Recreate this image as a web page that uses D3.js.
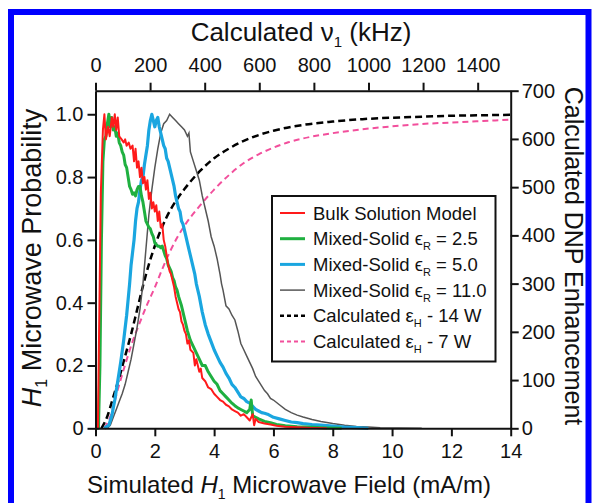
<!DOCTYPE html>
<html>
<head>
<meta charset="utf-8">
<script src="https://cdn.jsdelivr.net/npm/d3@7"></script>
<style>
  body { margin: 0; background: #fff; }
  text { font-family: Arial, "Liberation Sans", Helvetica, sans-serif; fill: #111; }
</style>
</head>
<body>
<script>
var svg_width  = 592;
var svg_height = 503;

// tick values
var xTicks    = [0, 2, 4, 6, 8, 10, 12, 14];
var xTopTicks = [0, 200, 400, 600, 800, 1000, 1200, 1400];
var yLTicks   = [0, 0.2, 0.4, 0.6, 0.8, 1.0];
var yRTicks   = [0, 100, 200, 300, 400, 500, 600, 700];

// simulated H1 probability curves, [field (mA/m), probability]
var bulk = [[0,0],[0.08,0],[0.12,0.3],[0.18,0.75],[0.25,0.95],[0.3,1.0],[0.35,0.92],[0.42,0.96],[0.48,0.93],
  [0.55,0.99],[0.6,0.96],[0.65,1.0],[0.7,0.95],[0.75,0.99],[0.8,0.93],[0.88,0.92],[0.95,0.91],[1.0,0.92],
  [1.05,0.9],[1.12,0.91],[1.18,0.89],[1.25,0.9],[1.3,0.85],[1.35,0.89],[1.4,0.83],[1.45,0.85],[1.5,0.8],
  [1.55,0.83],[1.6,0.78],[1.65,0.8],[1.7,0.76],[1.75,0.79],[1.8,0.73],[1.85,0.75],[1.9,0.7],[1.95,0.72],
  [2.0,0.69],[2.05,0.71],[2.1,0.66],[2.15,0.69],[2.2,0.64],[2.25,0.65],[2.3,0.6],[2.35,0.58],[2.4,0.55],
  [2.45,0.52],[2.5,0.5],[2.55,0.49],[2.6,0.47],[2.65,0.45],[2.7,0.42],[2.75,0.4],[2.8,0.38],[2.85,0.37],
  [2.9,0.34],[2.95,0.33],[3.0,0.31],[3.05,0.3],[3.1,0.27],[3.15,0.28],[3.2,0.25],[3.3,0.24],[3.35,0.2],
  [3.4,0.22],[3.5,0.18],[3.55,0.19],[3.6,0.16],[3.7,0.15],[3.8,0.13],[3.9,0.125],[4.0,0.11],[4.1,0.1],
  [4.2,0.09],[4.3,0.085],[4.4,0.075],[4.5,0.07],[4.6,0.06],[4.7,0.055],[4.8,0.05],[4.9,0.04],[5.0,0.045],
  [5.1,0.035],[5.2,0.025],[5.3,0.045],[5.35,0.01],[5.4,0.03],[5.5,0.02],[5.7,0.015],[5.9,0.012],[6.1,0.008],
  [6.4,0.005],[6.8,0.003],[7.3,0.001],[7.8,0]];

var solid25 = [[0,0],[0.1,0],[0.15,0.2],[0.2,0.6],[0.25,0.85],[0.3,0.92],[0.35,0.93],[0.4,0.97],[0.45,1.0],
  [0.5,0.96],[0.55,0.99],[0.6,0.95],[0.65,0.96],[0.7,0.93],[0.75,0.94],[0.8,0.91],[0.85,0.9],[0.9,0.88],
  [0.95,0.87],[1.0,0.84],[1.05,0.83],[1.1,0.8],[1.15,0.77],[1.2,0.76],[1.25,0.745],[1.3,0.75],[1.35,0.74],
  [1.4,0.76],[1.45,0.77],[1.5,0.77],[1.55,0.74],[1.6,0.72],[1.65,0.69],[1.7,0.66],[1.75,0.65],[1.8,0.64],
  [1.85,0.635],[1.9,0.62],[1.95,0.61],[2.0,0.59],[2.05,0.585],[2.1,0.58],[2.15,0.58],[2.2,0.575],[2.25,0.58],
  [2.3,0.565],[2.35,0.55],[2.4,0.54],[2.45,0.52],[2.5,0.51],[2.55,0.5],[2.6,0.48],[2.65,0.47],[2.7,0.45],
  [2.75,0.44],[2.8,0.42],[2.9,0.39],[3.0,0.35],[3.1,0.31],[3.2,0.28],[3.3,0.26],[3.4,0.24],[3.5,0.22],
  [3.6,0.2],[3.7,0.2],[3.8,0.18],[3.9,0.165],[4.0,0.15],[4.1,0.14],[4.2,0.12],[4.3,0.11],[4.4,0.1],
  [4.5,0.09],[4.6,0.08],[4.7,0.072],[4.8,0.065],[4.9,0.06],[5.0,0.055],[5.1,0.05],[5.2,0.06],[5.25,0.09],
  [5.3,0.04],[5.4,0.035],[5.5,0.03],[5.7,0.022],[5.9,0.018],[6.1,0.012],[6.4,0.008],[6.8,0.005],
  [7.3,0.003],[7.8,0.001],[8.3,0]];

var solid50 = [[0.3,0],[0.45,0.01],[0.55,0.04],[0.65,0.09],[0.75,0.15],[0.85,0.21],[0.95,0.28],[1.0,0.32],
  [1.05,0.36],[1.1,0.41],[1.15,0.46],[1.2,0.52],[1.25,0.56],[1.3,0.6],[1.35,0.66],[1.4,0.7],[1.45,0.72],
  [1.5,0.76],[1.55,0.79],[1.6,0.8],[1.65,0.84],[1.7,0.87],[1.75,0.9],[1.8,0.95],[1.85,0.98],[1.9,1.0],
  [1.95,0.98],[2.0,0.96],[2.05,0.98],[2.1,0.99],[2.15,0.96],[2.2,0.94],[2.25,0.92],[2.3,0.9],[2.35,0.89],
  [2.4,0.86],[2.45,0.85],[2.5,0.83],[2.55,0.81],[2.6,0.79],[2.65,0.77],[2.7,0.74],[2.75,0.72],[2.8,0.7],
  [2.85,0.69],[2.9,0.66],[2.95,0.65],[3.0,0.63],[3.05,0.61],[3.1,0.59],[3.15,0.57],[3.2,0.55],[3.25,0.53],
  [3.3,0.51],[3.35,0.49],[3.4,0.46],[3.45,0.44],[3.5,0.42],[3.6,0.37],[3.7,0.33],[3.8,0.3],[3.9,0.275],
  [4.0,0.25],[4.1,0.23],[4.2,0.21],[4.3,0.195],[4.4,0.175],[4.5,0.16],[4.6,0.14],[4.7,0.13],[4.8,0.115],
  [4.9,0.1],[5.0,0.095],[5.1,0.085],[5.2,0.08],[5.3,0.07],[5.4,0.06],[5.5,0.055],[5.6,0.05],[5.7,0.048],
  [5.8,0.045],[6.0,0.035],[6.2,0.03],[6.4,0.025],[6.6,0.02],[6.8,0.018],[7.0,0.015],[7.3,0.012],[7.6,0.01],
  [8.0,0.007],[8.4,0.004],[8.8,0.002],[9.2,0]];

var solid110 = [[0.4,0],[0.5,0.01],[0.6,0.035],[0.7,0.06],[0.8,0.085],[0.9,0.11],[1.0,0.14],[1.1,0.18],
  [1.2,0.22],[1.3,0.27],[1.4,0.32],[1.5,0.38],[1.6,0.46],[1.7,0.57],[1.8,0.68],[1.9,0.76],[2.0,0.83],
  [2.1,0.89],[2.2,0.94],[2.3,0.97],[2.4,0.98],[2.5,1.0],[2.6,0.99],[2.7,0.98],[2.8,0.97],[2.9,0.96],
  [3.0,0.95],[3.1,0.93],[3.15,0.94],[3.2,0.88],[3.3,0.85],[3.4,0.82],[3.5,0.79],[3.6,0.74],[3.7,0.7],
  [3.8,0.66],[3.9,0.61],[4.0,0.58],[4.1,0.54],[4.2,0.49],[4.25,0.46],[4.3,0.44],[4.4,0.39],[4.5,0.38],
  [4.6,0.36],[4.7,0.345],[4.8,0.31],[4.9,0.27],[5.0,0.25],[5.1,0.23],[5.2,0.21],[5.3,0.19],[5.4,0.165],
  [5.5,0.15],[5.6,0.135],[5.7,0.12],[5.8,0.11],[5.9,0.095],[6.0,0.09],[6.2,0.075],[6.4,0.06],[6.6,0.05],
  [6.8,0.042],[7.0,0.036],[7.3,0.028],[7.6,0.022],[8.0,0.015],[8.4,0.01],[8.8,0.006],[9.2,0.004],
  [9.6,0.002],[10.2,0.001],[11,0]];

// calculated DNP enhancement, [field (mA/m), enhancement]
var enh14 = [[0.2,0],[0.4,25],[0.6,65],[0.8,105],[1.0,150],[1.2,195],[1.4,245],[1.6,295],[1.8,340],
  [2.0,378],[2.25,418],[2.5,450],[2.75,475],[3.0,496],[3.5,532],[4.0,560],[4.5,580],[5.0,596],[5.5,608],
  [6.0,617],[7.0,629],[8.0,636],[9.0,641],[10,644],[11,646],[12,648],[13,649],[14,650]];

var enh7 = [[0.3,0],[0.5,25],[0.75,80],[1.0,132],[1.25,180],[1.5,220],[1.75,258],[2.0,292],[2.25,330],
  [2.5,365],[2.75,395],[3.0,420],[3.5,460],[4.0,495],[4.5,525],[5.0,550],[5.5,568],[6.0,582],[6.5,593],
  [7.0,601],[8.0,612],[9.0,620],[10,626],[11,631],[12,634],[13,637],[14,640]];

var seriesColors = ["#ff1a1a", "#1fb040", "#1aa6e0", "#555555", "#000000", "#f24f9c"];

var svg = d3.select('body').append('svg')
            .attr('width', svg_width)
            .attr('height', svg_height);

// blue frame round the figure
svg.append("path")
   .attr("d", "M11,503 V12 H588.5 V503")
   .attr("fill", "none")
   .attr("stroke", "#0000ff")
   .attr("stroke-width", 6);

var x    = d3.scaleLinear().domain([0, 14]).range([95.5, 510.7]);
var xTop = d3.scaleLinear().domain([0, 1521]).range([95.5, 510.7]);
var yL   = d3.scaleLinear().domain([0, 1.075]).range([428.3, 90.7]);
var yR   = d3.scaleLinear().domain([0, 700]).range([428.3, 90.7]);

var lineL = d3.line().x(d => x(d[0])).y(d => yL(d[1]));
var lineR = d3.line().x(d => x(d[0])).y(d => yR(d[1])).curve(d3.curveMonotoneX);

var curves = svg.append("g").attr("class", "curves");

curves.append("path").datum(enh7).attr("d", lineR)
      .attr("fill", "none").attr("stroke", seriesColors[5]).attr("stroke-width", 2)
      .attr("stroke-dasharray", "6,4");
curves.append("path").datum(enh14).attr("d", lineR)
      .attr("fill", "none").attr("stroke", seriesColors[4]).attr("stroke-width", 2.5)
      .attr("stroke-dasharray", "7,4");

curves.append("path").datum(solid110).attr("d", lineL)
      .attr("fill", "none").attr("stroke", seriesColors[3]).attr("stroke-width", 1.5);
curves.append("path").datum(solid50).attr("d", lineL)
      .attr("fill", "none").attr("stroke", seriesColors[2]).attr("stroke-width", 3.2)
      .attr("stroke-linejoin", "round");
curves.append("path").datum(solid25).attr("d", lineL)
      .attr("fill", "none").attr("stroke", seriesColors[1]).attr("stroke-width", 3)
      .attr("stroke-linejoin", "round");
curves.append("path").datum(bulk).attr("d", lineL)
      .attr("fill", "none").attr("stroke", seriesColors[0]).attr("stroke-width", 2)
      .attr("stroke-linejoin", "round");

// axes
function styleAxis(g) {
  g.select(".domain").attr("stroke", "#111").attr("stroke-width", 2);
  g.selectAll(".tick line").attr("stroke", "#111").attr("stroke-width", 2);
  g.selectAll(".tick text").attr("font-size", 20).attr("fill", "#111")
   .attr("font-family", 'Arial, "Liberation Sans", sans-serif');
}

svg.append("g")
   .attr("transform", "translate(0,428.3)")
   .call(d3.axisBottom(x).tickValues(xTicks).tickSize(8).tickSizeOuter(0).tickPadding(7.5))
   .call(styleAxis);

svg.append("g")
   .attr("transform", "translate(0,90.7)")
   .call(d3.axisTop(xTop).tickValues(xTopTicks).tickSize(8).tickSizeOuter(0).tickPadding(11)
           .tickFormat(d3.format("d")))
   .call(styleAxis);

svg.append("g")
   .attr("transform", "translate(95.5,0)")
   .call(d3.axisLeft(yL).tickValues(yLTicks).tickSize(8).tickSizeOuter(0).tickPadding(4)
           .tickFormat(d => d === 0 ? "0" : d3.format(".1f")(d)))
   .call(styleAxis);

svg.append("g")
   .attr("transform", "translate(510.7,0)")
   .call(d3.axisRight(yR).tickValues(yRTicks).tickSize(8).tickSizeOuter(0).tickPadding(3))
   .call(styleAxis);

// axis titles
var top_title = svg.append("text")
   .attr("x", 301).attr("y", 41)
   .attr("text-anchor", "middle").attr("font-size", 26);
top_title.append("tspan").text("Calculated \u03bd");
top_title.append("tspan").attr("font-size", 15).attr("dy", 6).text("1");
top_title.append("tspan").attr("dy", -6).text(" (kHz)");

var bottom_title = svg.append("text")
   .attr("x", 289).attr("y", 493)
   .attr("text-anchor", "middle").attr("font-size", 24);
bottom_title.append("tspan").text("Simulated ");
bottom_title.append("tspan").attr("font-style", "italic").text("H");
bottom_title.append("tspan").attr("font-size", 14).attr("dy", 6).text("1");
bottom_title.append("tspan").attr("dy", -6).text(" Microwave Field (mA/m)");

var left_title = svg.append("text")
   .attr("transform", "translate(41,258) rotate(-90)")
   .attr("text-anchor", "middle").attr("font-size", 27);
left_title.append("tspan").attr("font-style", "italic").text("H");
left_title.append("tspan").attr("font-size", 16).attr("dy", 6).text("1");
left_title.append("tspan").attr("dy", -6).text(" Microwave Probability");

svg.append("text")
   .attr("transform", "translate(565,256) rotate(90)")
   .attr("text-anchor", "middle").attr("font-size", 25)
   .text("Calculated DNP Enhancement");

// legend
var legendMain = ["Bulk Solution Model", "Mixed-Solid \u03f5", "Mixed-Solid \u03f5", "Mixed-Solid \u03f5",
                  "Calculated \u03b5", "Calculated \u03b5"];
var legendSub  = ["", "R", "R", "R", "H", "H"];
var legendTail = ["", " = 2.5", " = 5.0", " = 11.0", " - 14 W", " - 7 W"];
var legendWidth = [2, 3, 3, 1.5, 2.5, 2];
var legendDash  = [null, null, null, null, "4,3", "4,3"];

var legend = svg.append("g").attr("class", "legend");
legend.append("rect")
      .attr("x", 272).attr("y", 196).attr("width", 223.5).attr("height", 165.5)
      .attr("fill", "#fff").attr("stroke", "#111").attr("stroke-width", 2);

var rows = legend.selectAll("g.row")
      .data(legendMain)
      .enter().append("g")
      .attr("class", "row")
      .attr("transform", (d, i) => "translate(0," + (213 + i * 25.7) + ")");

rows.append("line")
    .attr("x1", 280).attr("x2", 305).attr("y1", 0).attr("y2", 0)
    .attr("stroke", (d, i) => seriesColors[i])
    .attr("stroke-width", (d, i) => legendWidth[i])
    .attr("stroke-dasharray", (d, i) => legendDash[i]);

var rowText = rows.append("text")
    .attr("x", 313).attr("y", 6.5).attr("font-size", 18.5);
rowText.append("tspan").text(d => d);
rowText.append("tspan").attr("font-size", 11).attr("dy", 5).text((d, i) => legendSub[i]);
rowText.append("tspan").attr("dy", -5).text((d, i) => legendTail[i]);
</script>
</body>
</html>
